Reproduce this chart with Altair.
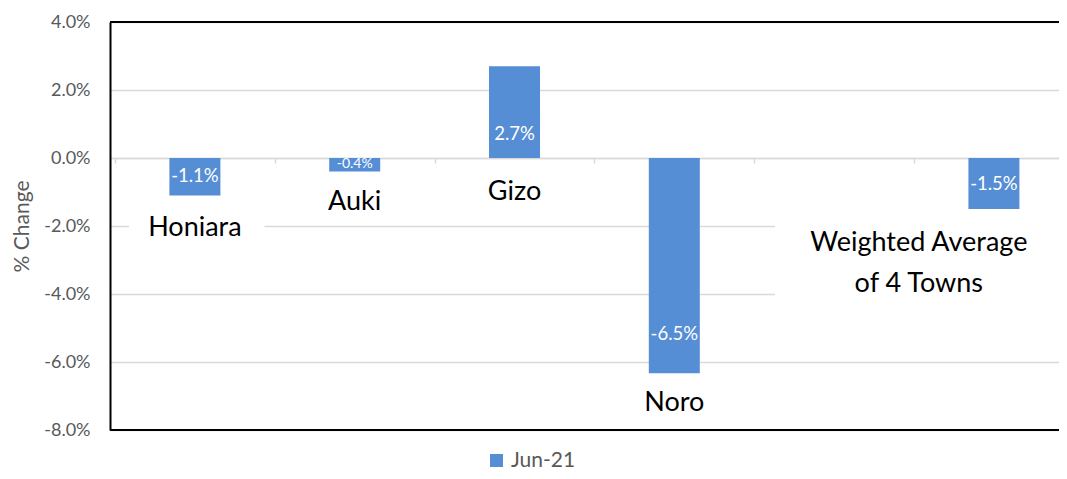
import altair as alt
import pandas as pd

# ---- data ----
towns = ["Honiara", "Auki", "Gizo", "Noro", "Weighted Average of 4 Towns"]
slot = [0.5, 1.5, 2.5, 3.5, 5.5]            # category slot centres (slot 5 is empty)
values = [-1.1, -0.4, 2.7, -6.33, -1.5]       # bar heights as drawn (% change)
value_labels = ["-1.1%", "-0.4%", "2.7%", "-6.5%", "-1.5%"]
value_label_y = [-0.52, -0.19, 0.71, -5.19, -0.77]
name_labels = ["Honiara", "Auki", "Gizo", "Noro", "Weighted Average\nof 4 Towns"]
name_x = [0.5, 1.5, 2.5, 3.5, 5.03]
name_y = [-2.06, -1.3, -1.0, -7.2, -2.5]
series = "Jun-21"
y_ticks = [-8, -6, -4, -2, 0, 2, 4]
slot_edges = [0, 1, 2, 3, 4, 5]
frame_y = [4, -8]
x_max = 5.876   # visible part of the category range

# white backgrounds of the category text boxes
box_x = [0.087, 4.13]
box_x2 = [0.935, 6.0]
box_y = [-1.75, -1.8]
box_y2 = [-2.35, -4.3]

bars = pd.DataFrame({"town": towns, "x": slot, "y": values, "series": series})
vlab = pd.DataFrame({"town": towns, "x": slot, "y": value_label_y, "label": value_labels})
nlab = pd.DataFrame({"x": name_x, "y": name_y, "label": name_labels})
boxes = pd.DataFrame({"x": box_x, "x2": box_x2, "y": box_y, "y2": box_y2})
frame = pd.DataFrame({"y": frame_y})

FONT = "Lato"
GRID = "#D9D9D9"
GREY = "#595959"
BLUE = "#558ED5"

xscale = alt.Scale(domain=[0, x_max], nice=False, zero=False)
yscale = alt.Scale(domain=[-8, 4], nice=False, zero=False)

x_axis = alt.Axis(orient="bottom", offset=-272, values=slot_edges, labels=False,
                  title=None, grid=False, domainColor=GRID, domainWidth=1.5,
                  tickColor=GRID, tickWidth=1.5, tickSize=5)
y_axis = alt.Axis(orient="left", values=y_ticks, grid=True, gridColor=GRID, gridWidth=1.5,
                  domainColor="black", domainWidth=2, ticks=False,
                  labelExpr="(datum.value < 0 ? '-' : '') + format(abs(datum.value), '.1f') + '%'",
                  labelFont=FONT, labelFontSize=18, labelColor=GREY, labelPadding=20,
                  title="% Change", titleFont=FONT, titleFontSize=21, titleColor=GREY,
                  titleFontWeight="normal", titleAngle=270, titleAlign="center",
                  titleBaseline="middle", titleX=-88, titleY=204)

X = alt.X("x:Q", scale=xscale, axis=x_axis)
Y = alt.Y("y:Q", scale=yscale, axis=y_axis)

box_layer = alt.Chart(boxes).mark_rect(color="white").encode(
    x=X, x2="x2:Q", y=Y, y2="y2:Q",
)

bar_layer = alt.Chart(bars).mark_bar(size=51).encode(
    x=X, y=Y,
    color=alt.Color("series:N", scale=alt.Scale(range=[BLUE]),
                    legend=alt.Legend(orient="none", legendX=376, legendY=428,
                                      title=None, symbolType="square", symbolSize=169,
                                      symbolStrokeWidth=0, labelFont=FONT,
                                      labelFontSize=21, labelColor=GREY,
                                      labelOffset=4, padding=0)),
)

frame_layer = alt.Chart(frame).mark_rule(color="black", strokeWidth=2).encode(y=Y)

vlab_layer = alt.Chart(vlab).mark_text(font=FONT, color="white", baseline="middle",
                                       align="center").encode(
    x=X, y=Y,
    text="label:N",
    size=alt.condition(alt.datum.town == "Auki", alt.value(14), alt.value(18.5)),
)

nlab_layer = alt.Chart(nlab).mark_text(font=FONT, color="black", baseline="middle",
                                       align="center", fontSize=27, lineBreak="\n",
                                       lineHeight=41).encode(
    x=X, y=Y, text="label:N",
)

chart = alt.layer(box_layer, bar_layer, frame_layer, vlab_layer, nlab_layer).properties(
    width=949, height=408,
    autosize=alt.AutoSizeParams(type="none"),
    padding={"left": 102, "top": 14, "right": 0, "bottom": 41},
).configure(font=FONT).configure_view(strokeWidth=0, stroke="transparent")

chart.save("out.html", embed_options={"renderer": "svg", "actions": False})
